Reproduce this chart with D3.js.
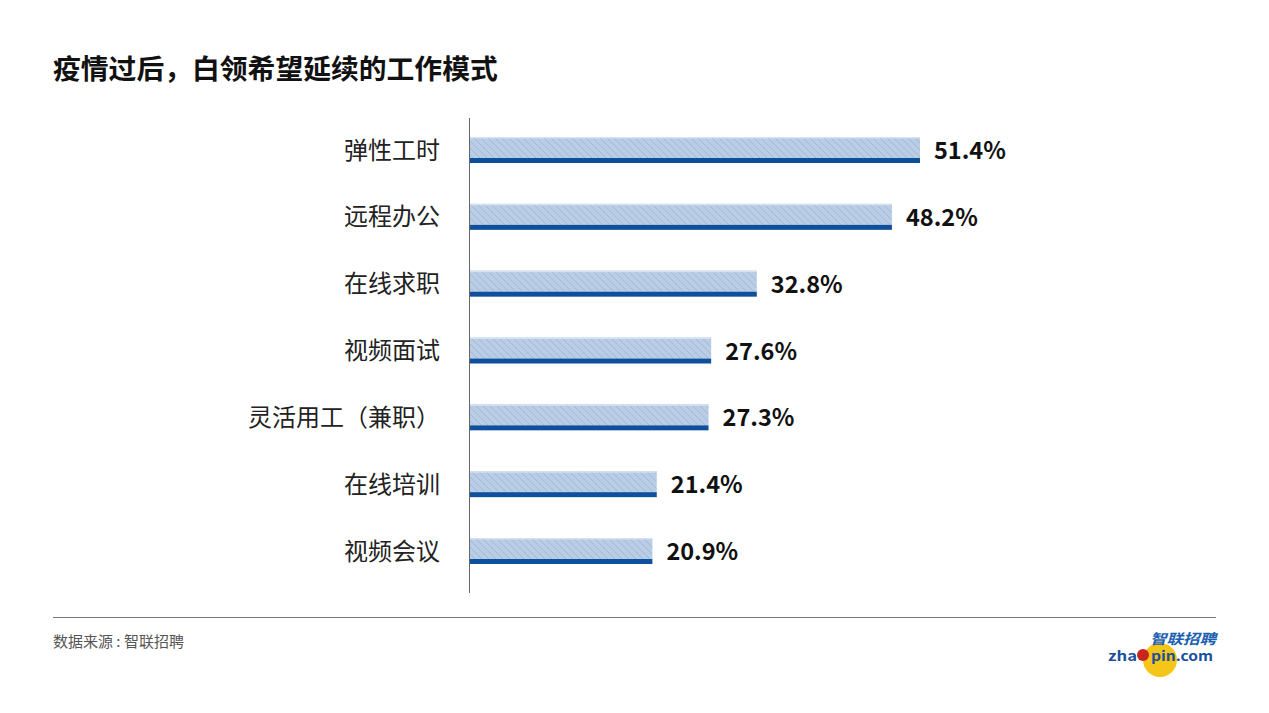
<!DOCTYPE html>
<html><head><meta charset="utf-8">
<script src="https://cdn.jsdelivr.net/npm/d3@7/dist/d3.min.js"></script>
<style>
html,body{margin:0;padding:0;background:#fff;}
text{font-family:"Noto Sans CJK SC","Noto Sans",sans-serif;}
</style></head>
<body>
<svg id="c" width="1269" height="713"></svg>
<script>
const categories = ["弹性工时","远程办公","在线求职","视频面试","灵活用工（兼职）","在线培训","视频会议"];
const values = [51.4,48.2,32.8,27.6,27.3,21.4,20.9];
const valueLabels = ["51.4%","48.2%","32.8%","27.6%","27.3%","21.4%","20.9%"];
const title = "疫情过后，白领希望延续的工作模式";
const source = "数据来源 : 智联招聘";

const svg = d3.select("#c");
const defs = svg.append("defs");
const pat = defs.append("pattern").attr("id","hatch").attr("patternUnits","userSpaceOnUse")
  .attr("width",7).attr("height",7);
pat.append("rect").attr("width",7).attr("height",7).attr("fill","#b9cde6");
pat.append("path").attr("d","M-1,-1 L8,8 M-1,6 L1,8 M6,-1 L8,1").attr("stroke","#9cb2cc").attr("stroke-width",0.8);

const x = d3.scaleLinear().domain([0,51.4]).range([469,920]);
const y = d3.scalePoint().domain(categories).range([150,551]);
const barH = 26, darkH = 5;

svg.append("text").attr("x",53).attr("y",79).attr("font-size",27.8).attr("font-weight","bold")
  .attr("fill","#111").text(title);

const g = svg.append("g");
const rows = g.selectAll("g.row").data(categories.map((c,i)=>({c,v:values[i],l:valueLabels[i]})))
  .enter().append("g");
rows.append("rect").attr("x",x(0)).attr("y",d=>y(d.c)-barH/2).attr("width",d=>x(d.v)-x(0))
  .attr("height",barH-darkH).attr("fill","url(#hatch)");
rows.append("rect").attr("x",x(0)).attr("y",d=>y(d.c)-barH/2).attr("width",d=>x(d.v)-x(0))
  .attr("height",1.5).attr("fill","#d6e2f0");
rows.append("rect").attr("x",x(0)).attr("y",d=>y(d.c)+barH/2-darkH).attr("width",d=>x(d.v)-x(0))
  .attr("height",darkH).attr("fill","#0f509c");
rows.append("text").attr("x",440).attr("y",d=>y(d.c)+8.5).attr("text-anchor","end")
  .attr("font-size",24).attr("fill","#222").text(d=>d.c);
rows.append("text").attr("x",d=>x(d.v)+14).attr("y",d=>y(d.c)+9)
  .attr("font-size",23.5).attr("font-weight","bold").attr("fill","#111").text(d=>d.l);

svg.append("line").attr("x1",469.5).attr("x2",469.5).attr("y1",118).attr("y2",593)
  .attr("stroke","#666").attr("stroke-width",1);

svg.append("line").attr("x1",53).attr("x2",1216).attr("y1",617.5).attr("y2",617.5)
  .attr("stroke","#777").attr("stroke-width",1);
svg.append("text").attr("x",53).attr("y",647).attr("font-size",15).attr("fill","#555").text(source);

// logo
const lg = svg.append("g");
lg.append("circle").attr("cx",1160).attr("cy",660).attr("r",17).attr("fill","#f5c518");
lg.append("text").attr("x",1150).attr("y",644).attr("font-size",14).attr("font-weight","bold")
  .attr("font-style","italic").attr("fill","#1a5fb0").attr("textLength",66).attr("lengthAdjust","spacingAndGlyphs").text("智联招聘");
lg.append("text").attr("x",1108).attr("y",661).attr("font-size",13).attr("font-weight","bold")
  .attr("font-family","Liberation Sans, Arial, sans-serif").attr("fill","#1a4f9c")
  .attr("textLength",29).attr("lengthAdjust","spacingAndGlyphs").text("zha");
lg.append("text").attr("x",1151).attr("y",661).attr("font-size",13).attr("font-weight","bold")
  .attr("font-family","Liberation Sans, Arial, sans-serif").attr("fill","#1a4f9c")
  .attr("textLength",62).attr("lengthAdjust","spacingAndGlyphs").text("pin.com");
lg.append("circle").attr("cx",1143).attr("cy",655).attr("r",6).attr("fill","#c8251f");
</script>
</body></html>
